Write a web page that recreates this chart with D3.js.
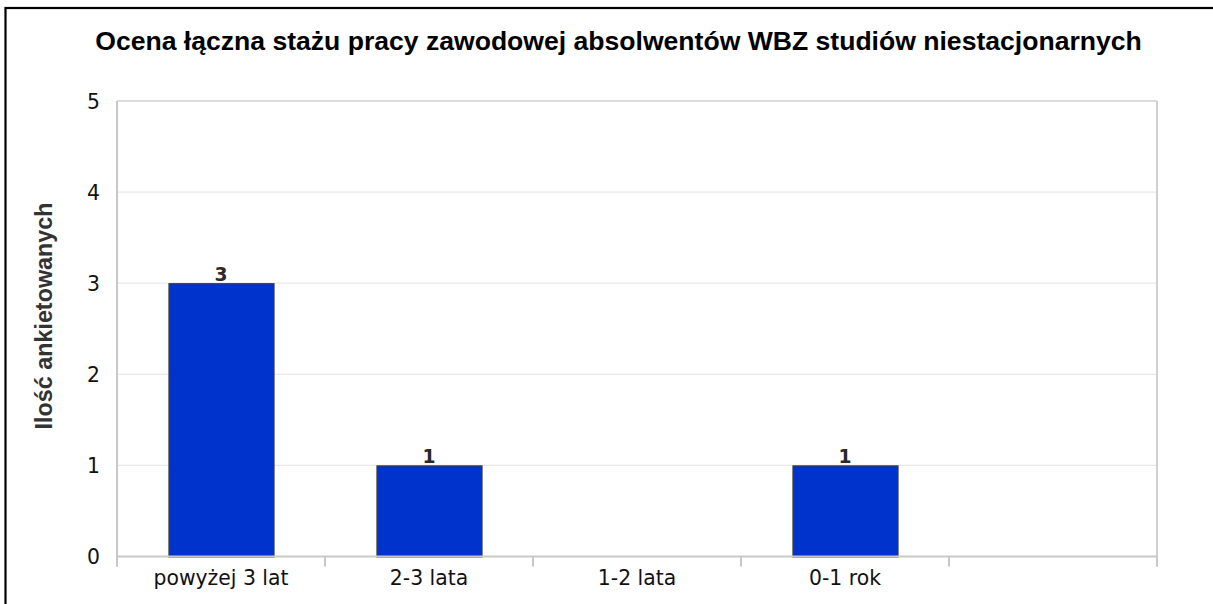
<!DOCTYPE html>
<html><head><meta charset="utf-8">
<script src="https://cdn.jsdelivr.net/npm/d3@7"></script>
<style>body{margin:0;background:#fff}svg{display:block}</style>
</head><body>
<svg id="c" width="1213" height="604"></svg>
<script>
const title = "Ocena łączna stażu pracy zawodowej absolwentów WBZ studiów niestacjonarnych";
const yTitle = "Ilość ankietowanych";
const categories = ["powyżej 3 lat", "2-3 lata", "1-2 lata", "0-1 rok", ""];
const values = [3, 1, 0, 1, null];
const yTicks = [0, 1, 2, 3, 4, 5];

const svg = d3.select("#c");
const m = {left: 117, right: 1157, top: 101, bottom: 556.5};

// outer frame (left & top visible)
svg.append("rect").attr("x", 5.5).attr("y", 8).attr("width", 1240).attr("height", 640)
  .attr("fill", "none").attr("stroke", "#000").attr("stroke-width", 2.2);

const x = d3.scaleBand().domain(d3.range(categories.length)).range([m.left, m.right]).paddingInner(0).paddingOuter(0);
const y = d3.scaleLinear().domain([0, 5]).range([m.bottom, m.top]);

// gridlines
svg.append("g").selectAll("line").data(yTicks.filter(d => d > 0)).join("line")
  .attr("x1", m.left).attr("x2", m.right).attr("y1", d => y(d)).attr("y2", d => y(d))
  .attr("stroke", d => d === 5 ? "#d0d0d0" : "#e8e8e8").attr("stroke-width", d => d === 5 ? 1.5 : 1.2);

// right border
svg.append("line").attr("x1", m.right).attr("x2", m.right).attr("y1", m.top).attr("y2", m.bottom + 10)
  .attr("stroke", "#d0d0d0").attr("stroke-width", 2);

// bars
const bw = x.bandwidth() * 0.505;
const barData = values.map((v, i) => ({v, i})).filter(d => d.v);
svg.append("g").selectAll("rect").data(barData).join("rect")
  .attr("x", d => x(d.i) + (x.bandwidth() - bw) / 2 + 0.5)
  .attr("y", d => y(d.v) + 0.5)
  .attr("width", bw)
  .attr("height", d => y(0) - y(d.v))
  .attr("fill", "#0033cc").attr("stroke", "#3c3c3c").attr("stroke-width", 1.2);

// y axis
const yAxis = d3.axisLeft(y).tickValues(yTicks).tickSize(0).tickPadding(17).tickFormat(d3.format("d"));
const gy = svg.append("g").attr("transform", `translate(${m.left},0)`).call(yAxis);
gy.select(".domain").attr("stroke", "#c8c8c8").attr("stroke-width", 2).attr("d", `M0,${m.top}V${m.bottom + 10}`);
gy.selectAll("text").attr("font-family", "DejaVu Sans").attr("font-size", 15.5).attr("fill", "#111").attr("dy", "0.36em");

// x axis
const xAxis = d3.axisBottom(x).tickSize(0).tickPadding(14).tickFormat(i => categories[i]);
const gx = svg.append("g").attr("transform", `translate(0,${m.bottom})`).call(xAxis);
gx.select(".domain").attr("stroke", "#c8c8c8").attr("stroke-width", 2).attr("d", `M${m.left},0H${m.right}`);
gx.selectAll("text").attr("font-family", "DejaVu Sans").attr("font-size", 15).attr("fill", "#111");
// category boundary ticks
svg.append("g").selectAll("line").data(d3.range(categories.length + 1)).join("line")
  .attr("x1", i => m.left + i * x.bandwidth()).attr("x2", i => m.left + i * x.bandwidth())
  .attr("y1", m.bottom).attr("y2", m.bottom + 10)
  .attr("stroke", "#c8c8c8").attr("stroke-width", 2);

function fit(sel, target) {
  const n = sel.node();
  const fs = parseFloat(sel.attr("font-size"));
  const w = n.getComputedTextLength();
  sel.attr("font-size", fs * target / w);
}
const first = gx.select(".tick text");
const w0 = first.node().getComputedTextLength();
const fs = 15 * 135 / w0;
gx.selectAll("text").attr("font-size", fs);
gy.selectAll("text").attr("font-size", fs);

// value labels
svg.append("g").selectAll("text").data(barData).join("text")
  .attr("x", d => x(d.i) + x.bandwidth() / 2)
  .attr("y", d => y(d.v) - 2)
  .attr("text-anchor", "middle")
  .attr("font-family", "DejaVu Sans").attr("font-weight", "bold")
  .attr("font-size", fs * 0.92).attr("fill", "#2a2a2a")
  .text(d => String(d.v));

// title
const t = svg.append("text").attr("x", 618.5).attr("y", 50).attr("text-anchor", "middle")
  .attr("font-family", "Liberation Sans").attr("font-weight", "bold").attr("font-size", 20).attr("fill", "#000")
  .text(title);
fit(t, 1047);

// y title
const yt = svg.append("text").attr("transform", "translate(52,316) rotate(-90)").attr("text-anchor", "middle")
  .attr("font-family", "Liberation Sans").attr("font-weight", "bold").attr("font-size", 18).attr("fill", "#333")
  .text(yTitle);
fit(yt, 227);
</script>
</body></html>
